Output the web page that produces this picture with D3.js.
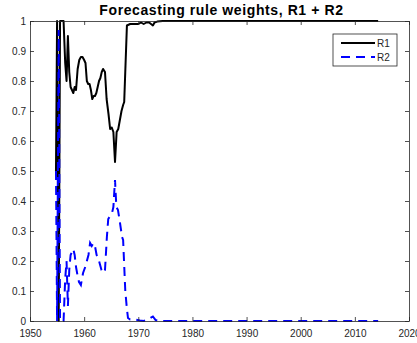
<!DOCTYPE html>
<html>
<head>
<meta charset="utf-8">
<script src="https://cdn.jsdelivr.net/npm/d3@7"></script>
<style>
  body { margin: 0; background: #fff; }
  svg { display: block; font-family: Arial, "Liberation Sans", sans-serif; }
</style>
</head>
<body>
<div id="chart"></div>
<script>
// Data
const r1Years = [1954.8, 1955.0, 1955.3, 1955.55, 1956.2, 1956.5, 1956.75, 1957.0, 1957.25, 1957.5,
  1957.75, 1958.0, 1958.25, 1958.5, 1958.8, 1959.1, 1959.4, 1959.7, 1960.0, 1960.25,
  1960.5, 1960.75, 1961.0, 1961.25, 1961.5, 1961.75, 1962.0, 1962.25, 1962.5, 1962.75,
  1963.0, 1963.25, 1963.5, 1963.85, 1964.15, 1964.5, 1964.8, 1965.1, 1965.4, 1965.7,
  1966.0, 1966.3, 1966.6, 1966.9, 1967.2, 1967.4, 1967.9, 1968.5, 1969.0, 1970.0,
  1970.5, 1971.0, 1971.5, 1972.0, 1972.7, 1973.0, 1973.5, 1974.5, 2014.3];
const r1Values = [0.50, 1.00, 0.00, 1.00, 1.00, 0.86, 0.80, 0.95, 0.83, 0.78,
  0.77, 0.76, 0.78, 0.77, 0.84, 0.87, 0.88, 0.88, 0.87, 0.86,
  0.80, 0.79, 0.79, 0.77, 0.74, 0.75, 0.75, 0.76, 0.78, 0.80,
  0.81, 0.83, 0.84, 0.83, 0.74, 0.69, 0.64, 0.645, 0.63, 0.53,
  0.63, 0.64, 0.67, 0.70, 0.72, 0.73, 0.985, 0.99, 0.99, 0.99,
  0.995, 0.99, 0.995, 0.995, 0.985, 0.995, 0.998, 1.00, 1.00];

const r2Years = [1954.8, 1955.0, 1955.3, 1955.55, 1956.2, 1956.5, 1956.75, 1957.0, 1957.25, 1957.5,
  1957.75, 1958.0, 1958.25, 1958.5, 1958.8, 1959.05, 1959.4, 1959.8, 1960.2, 1960.5,
  1960.8, 1961.1, 1961.4, 1961.7, 1962.0, 1962.3, 1962.6, 1962.9, 1963.2, 1963.5,
  1963.85, 1964.2, 1964.45, 1964.8, 1965.15, 1965.4, 1965.7, 1965.95, 1966.25, 1966.6,
  1967.0, 1967.2, 1967.6, 1967.9, 1968.1, 1968.5, 1969.5, 1970.3, 1971.0, 1971.8,
  1972.7, 1973.2, 1974.0, 2014.3];
const r2Values = [0.50, 0.00, 0.97, 0.00, 0.00, 0.14, 0.20, 0.05, 0.17, 0.22,
  0.23, 0.24, 0.22, 0.18, 0.15, 0.13, 0.12, 0.16, 0.18, 0.20,
  0.22, 0.26, 0.25, 0.26, 0.25, 0.22, 0.21, 0.19, 0.17, 0.16,
  0.17, 0.28, 0.34, 0.35, 0.36, 0.38, 0.47, 0.38, 0.37, 0.33,
  0.28, 0.27, 0.10, 0.04, 0.01, 0.005, 0.005, 0.002, 0.00, 0.005,
  0.015, 0.003, 0.00, 0.00];

const xTicks = [1950, 1960, 1970, 1980, 1990, 2000, 2010, 2020];
const yTicks = [0, 0.1, 0.2, 0.3, 0.4, 0.5, 0.6, 0.7, 0.8, 0.9, 1];
const seriesNames = ["R1", "R2"];

const width = 417, height = 343;
const plotLeft = 30, plotRight = 409, plotTop = 21, plotBottom = 321;
const axisColor = "#262626";

const svg = d3.select("#chart").append("svg")
  .attr("width", width).attr("height", height);

const x = d3.scaleLinear().domain([1950, 2020]).range([plotLeft, plotRight]);
const y = d3.scaleLinear().domain([0, 1]).range([plotBottom, plotTop]);

// clip to plot box
svg.append("clipPath").attr("id", "clip")
  .append("rect").attr("x", plotLeft).attr("y", plotTop - 1)
  .attr("width", plotRight - plotLeft).attr("height", plotBottom - plotTop + 2);

const line = d3.line().x(d => x(d[0])).y(d => y(d[1]));

const r1 = r1Years.map((t, i) => [t, r1Values[i]]);
const r2 = r2Years.map((t, i) => [t, r2Values[i]]);

const plot = svg.append("g").attr("clip-path", "url(#clip)");
plot.append("path").datum(r1)
  .attr("d", line).attr("fill", "none")
  .attr("stroke", "#000").attr("stroke-width", 2)
  .attr("stroke-linejoin", "round");
plot.append("path").datum(r2)
  .attr("d", line).attr("fill", "none")
  .attr("stroke", "#0000ff").attr("stroke-width", 2)
  .attr("stroke-dasharray", "9,6");

// axes: MATLAB style box with inward ticks
const tickLen = 4;
svg.append("g").attr("transform", `translate(0,${plotBottom})`)
  .call(d3.axisBottom(x).tickValues(xTicks).tickFormat(d3.format("d"))
    .tickSizeInner(-tickLen).tickSizeOuter(0).tickPadding(9));
svg.append("g").attr("transform", `translate(0,${plotTop})`)
  .call(d3.axisTop(x).tickValues(xTicks).tickFormat("")
    .tickSizeInner(-tickLen).tickSizeOuter(0));
svg.append("g").attr("transform", `translate(${plotLeft},0)`)
  .call(d3.axisLeft(y).tickValues(yTicks).tickFormat(d => d === 0 || d === 1 ? d : d3.format(".1f")(d))
    .tickSizeInner(-tickLen).tickSizeOuter(0).tickPadding(4));
svg.append("g").attr("transform", `translate(${plotRight},0)`)
  .call(d3.axisRight(y).tickValues(yTicks).tickFormat("")
    .tickSizeInner(-tickLen).tickSizeOuter(0));

svg.selectAll(".domain, .tick line").attr("stroke", axisColor).attr("stroke-width", 0.8);
svg.selectAll(".tick text").attr("fill", axisColor).style("font-size", "10px");

// title
svg.append("text")
  .attr("x", (plotLeft + plotRight) / 2 + 2).attr("y", 15)
  .attr("text-anchor", "middle")
  .style("font-size", "14px").style("font-weight", "bold")
  .style("letter-spacing", "0.6px")
  .attr("fill", "#000")
  .text("Forecasting rule weights, R1 + R2");

// legend
const lg = svg.append("g").attr("transform", "translate(333,34)");
lg.append("rect").attr("width", 64).attr("height", 32)
  .attr("fill", "#fff").attr("stroke", axisColor).attr("stroke-width", 0.8);
seriesNames.forEach((name, i) => {
  const ly = 9 + i * 14;
  lg.append("line").attr("x1", 8).attr("x2", 42).attr("y1", ly).attr("y2", ly)
    .attr("stroke", i === 0 ? "#000" : "#0000ff").attr("stroke-width", 2)
    .attr("stroke-dasharray", i === 0 ? null : "9,6");
  lg.append("text").attr("x", 44).attr("y", ly + 3.5)
    .style("font-size", "10px").attr("fill", axisColor).text(name);
});
</script>
</body>
</html>
